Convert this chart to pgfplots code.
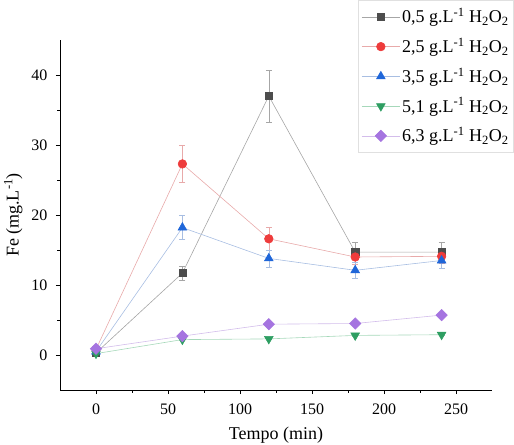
\documentclass[border=0pt]{standalone}
\usepackage{fontspec}
\setmainfont{Liberation Serif}
\usepackage{pgfplots}
\pgfplotsset{compat=1.18}

\definecolor{mkA}{HTML}{4D4D4D}\definecolor{lnA}{HTML}{A6A6A6}
\definecolor{mkB}{HTML}{EE3B3B}\definecolor{lnB}{HTML}{E8AAAA}
\definecolor{mkC}{HTML}{1F66D9}\definecolor{lnC}{HTML}{A8BEE2}
\definecolor{mkD}{HTML}{2E9E62}\definecolor{lnD}{HTML}{A6D8BA}
\definecolor{mkE}{HTML}{A574E0}\definecolor{lnE}{HTML}{D3BDEB}

\pgfplotsset{
  serie/.style n args={4}{
    color=#2, line width=0.6bp, mark=#3,
    mark options={draw=#1, fill=#1, solid, #4},
    error bars/.cd, y dir=both, y explicit,
    error bar style={color=#2, line width=0.6bp},
    error mark options={rotate=90, mark size=3bp, color=#2, line width=0.6bp},
    /pgfplots/.cd,
  },
}

\begin{document}
\fontsize{16bp}{19bp}\selectfont
\begin{tikzpicture}
\begin{axis}[
  scale only axis, width=432bp, height=350bp,
  xmin=-25, xmax=275, ymin=-5, ymax=45,
  axis lines*=left,
  axis line style={line width=0.8bp, black},
  xtick={0,50,...,250}, ytick={0,10,...,40},
  minor x tick num=1, minor y tick num=1,
  tick align=outside,
  major tick length=4bp, minor tick length=2.5bp,
  tick style={line width=0.8bp, black},
  /pgf/number format/assume math mode=true,
  ticklabel style={font=\fontsize{16bp}{19bp}\selectfont},
  xticklabel style={yshift=-4bp},
  yticklabel style={xshift=-3bp},
  xlabel={Tempo (min)}, ylabel={Fe (mg.L\textsuperscript{-1})},
  label style={font=\fontsize{18bp}{21bp}\selectfont},
  xlabel style={yshift=-2bp},
  ylabel style={yshift=-2bp},
  legend cell align=left,
  legend style={at={(1.051,1.114)}, anchor=north east,
    draw=black!12, line width=0.6bp,
    font=\fontsize{18bp}{21bp}\selectfont,
    row sep=8.8bp, inner xsep=3bp, inner ysep=6bp},
  legend image code/.code={
    \draw[mark repeat=2, mark phase=2] plot coordinates {(0bp,0bp) (19bp,0bp) (38bp,0bp)};
  },
  clip=false,
]
\addplot+[serie={mkA}{lnA}{square*}{mark size=3.6bp}] table[x=x, y=y, y error=e] {
x y e
0 0.3 0.2
60 11.7 1.0
120 37.0 3.7
180 14.7 1.4
240 14.7 1.4
};
\addlegendentry{0,5 g.L\textsuperscript{-1} H\textsubscript{2}O\textsubscript{2}}
\addplot+[serie={mkB}{lnB}{*}{mark size=4.3bp}] table[x=x, y=y, y error=e] {
x y e
0 0.8 0.2
60 27.3 2.7
120 16.6 1.6
180 14.0 1.0
240 14.1 1.0
};
\addlegendentry{2,5 g.L\textsuperscript{-1} H\textsubscript{2}O\textsubscript{2}}
\addplot+[serie={mkC}{lnC}{triangle*}{mark size=5bp}] table[x=x, y=y, y error=e] {
x y e
0 0.5 0.2
60 18.2 1.7
120 13.8 1.2
180 12.1 1.1
240 13.5 1.1
};
\addlegendentry{3,5 g.L\textsuperscript{-1} H\textsubscript{2}O\textsubscript{2}}
\addplot+[serie={mkD}{lnD}{triangle*}{mark size=5bp, rotate=180}] table[x=x, y=y, y error=e] {
x y e
0 0.2 0.1
60 2.2 0.1
120 2.3 0.1
180 2.8 0.1
240 2.9 0.1
};
\addlegendentry{5,1 g.L\textsuperscript{-1} H\textsubscript{2}O\textsubscript{2}}
\addplot+[serie={mkE}{lnE}{square*}{mark size=4bp, rotate=45}] table[x=x, y=y, y error=e] {
x y e
0 0.9 0.1
60 2.7 0.1
120 4.4 0.1
180 4.5 0.1
240 5.7 0.1
};
\addlegendentry{6,3 g.L\textsuperscript{-1} H\textsubscript{2}O\textsubscript{2}}
\coordinate (bl) at (rel axis cs:0,0);
\coordinate (tr) at (rel axis cs:1,1);
\end{axis}
\pgfresetboundingbox
\path ([shift={(-60bp,-55bp)}]bl) rectangle ([shift={(22bp,40bp)}]tr);
\end{tikzpicture}
\end{document}
